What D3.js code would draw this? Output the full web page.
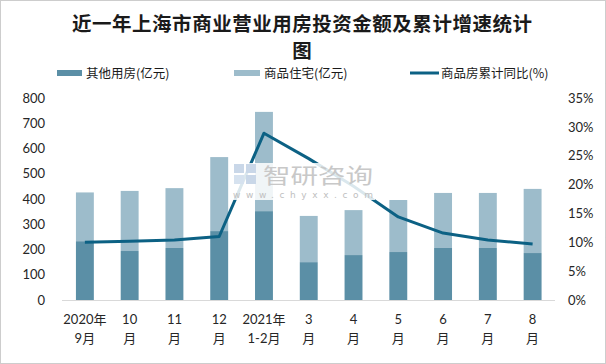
<!DOCTYPE html>
<html><head><meta charset="utf-8">
<script src="https://cdn.jsdelivr.net/npm/d3@7/dist/d3.min.js"></script>
<style>body{margin:0;background:#fff}svg{display:block}</style>
</head><body><svg id="c" width="606" height="364"></svg>
<script>
const categories = ["2020年9月","10月","11月","12月","2021年1-2月","3月","4月","5月","6月","7月","8月"];
const labelLine1 = ["2020年","10","11","12","2021年","3","4","5","6","7","8"];
const labelLine2 = ["9月","月","月","月","1-2月","月","月","月","月","月","月"];
const otherValues = [233,194,206,273,352,150,178,190,206,206,186];
const residentialValues = [193,238,237,293,393,183,178,206,218,218,254];
const growthValues = [10.0,10.2,10.4,11.0,28.9,24.5,19.7,14.4,11.6,10.4,9.7];
const leftTicks = [0,100,200,300,400,500,600,700,800];
const rightTicks = [0,5,10,15,20,25,30,35];

const cDark = "#5b8fa6", cLight = "#9dbccb", cLine = "#0c6184";
const svg = d3.select("#c");
svg.append("rect").attr("x",0.5).attr("y",0.5).attr("width",605).attr("height",363)
  .attr("fill","#fff").attr("stroke","#9a9a9a").attr("stroke-dasharray","1,1");

const x = d3.scaleBand().domain(categories).range([62.5,555]).paddingInner(0.6).paddingOuter(0.3);
const yL = d3.scaleLinear().domain([0,800]).range([300,98]);
const yR = d3.scaleLinear().domain([0,35]).range([300,98]);

// title
const title = svg.append("g").attr("text-anchor","middle")
  .attr("font-family","'Noto Sans CJK SC'").attr("font-weight","bold").attr("font-size",19.5).attr("fill","#1a1a1a");
title.append("text").attr("x",302).attr("y",31).attr("textLength",460).text("近一年上海市商业营业用房投资金额及累计增速统计");
title.append("text").attr("x",302).attr("y",58).text("图");

// legend
const lg = svg.append("g").attr("font-family","'Noto Sans CJK SC'").attr("font-size",12.5).attr("fill","#1a1a1a");
lg.append("rect").attr("x",57).attr("y",70).attr("width",25).attr("height",6).attr("fill",cDark);
lg.append("text").attr("x",86).attr("y",77.5).text("其他用房(亿元)");
lg.append("rect").attr("x",234).attr("y",70).attr("width",26).attr("height",6).attr("fill",cLight);
lg.append("text").attr("x",264).attr("y",77.5).text("商品住宅(亿元)");
lg.append("line").attr("x1",410).attr("x2",439).attr("y1",73).attr("y2",73).attr("stroke",cLine).attr("stroke-width",3);
lg.append("text").attr("x",441).attr("y",77.5).text("商品房累计同比(%)");

// axes
const axL = svg.append("g").attr("transform","translate(45,0)")
  .call(d3.axisLeft(yL).tickValues(leftTicks).tickSize(0).tickPadding(0));
const axR = svg.append("g").attr("transform","translate(568,0)")
  .call(d3.axisRight(yR).tickValues(rightTicks).tickSize(0).tickPadding(0).tickFormat(d=>d+"%"));
[axL,axR].forEach(a=>{a.select(".domain").remove();
  a.selectAll("text").attr("font-family","Lato,'Noto Sans CJK SC'").attr("font-size",13).attr("fill","#262626");});

svg.append("line").attr("x1",62).attr("x2",555).attr("y1",300.5).attr("y2",300.5).attr("stroke","#d9d9d9");

const axB = svg.append("g").attr("transform","translate(0,300)")
  .call(d3.axisBottom(x).tickSize(0).tickFormat(""));
axB.select(".domain").remove();
axB.selectAll(".tick").each(function(d,i){
  const t = d3.select(this).select("text").attr("font-family","Lato,'Noto Sans CJK SC'").attr("font-size",13).attr("fill","#262626").attr("y",0).attr("dy",0);
  t.append("tspan").attr("x",0).attr("y",24).text(labelLine1[i]);
  t.append("tspan").attr("x",0).attr("y",43).text(labelLine2[i]);
});

// bars
const bw = x.bandwidth();
svg.append("g").selectAll("rect").data(categories).join("rect")
  .attr("x",d=>x(d)).attr("width",bw)
  .attr("y",(d,i)=>yL(otherValues[i])).attr("height",(d,i)=>yL(0)-yL(otherValues[i])).attr("fill",cDark);
svg.append("g").selectAll("rect").data(categories).join("rect")
  .attr("x",d=>x(d)).attr("width",bw)
  .attr("y",(d,i)=>yL(otherValues[i]+residentialValues[i])).attr("height",(d,i)=>yL(otherValues[i])-yL(otherValues[i]+residentialValues[i])).attr("fill",cLight);

// line
const line = d3.line().x((d,i)=>x(categories[i])+bw/2).y(d=>yR(d));
svg.append("path").datum(growthValues).attr("d",line).attr("fill","none")
  .attr("stroke",cLine).attr("stroke-width",3).attr("stroke-linejoin","round");

// watermark
const wm = svg.append("g");
wm.append("rect").attr("x",231).attr("y",163).attr("width",144).attr("height",37).attr("fill","#fff").attr("opacity",0.85);
wm.append("rect").attr("x",234).attr("y",164).attr("width",10).attr("height",9).attr("fill","#c9d7e8");
wm.append("rect").attr("x",246).attr("y",164).attr("width",10).attr("height",9).attr("fill","#c9d7e8");
wm.append("rect").attr("x",234).attr("y",175).attr("width",10).attr("height",9).attr("fill","#d6e2ef");
wm.append("rect").attr("x",246).attr("y",175).attr("width",10).attr("height",9).attr("fill","#c9d7e8");
wm.append("text").attr("x",263).attr("y",183).attr("font-family","'Noto Sans CJK SC'").attr("font-size",21)
  .attr("fill","#c8c8c8").attr("textLength",110).attr("lengthAdjust","spacingAndGlyphs").text("智研咨询");
wm.append("text").attr("x",233).attr("y",198).attr("font-family","'DejaVu Sans'").attr("font-size",9)
  .attr("fill","#c0c0c0").attr("textLength",140).text("www.chyxx.com");
</script></body></html>
